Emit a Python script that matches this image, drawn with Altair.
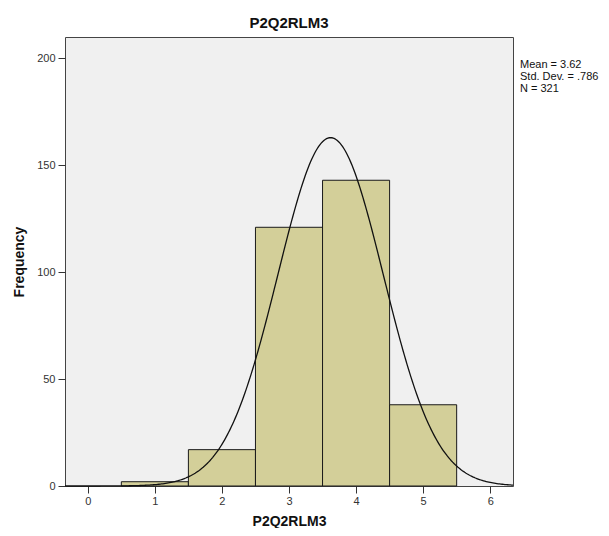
import altair as alt
import pandas as pd

# Histogram bins (value centres) and frequencies
bin_centers = [1, 2, 3, 4, 5]
frequencies = [2, 17, 121, 143, 38]
bin_width = 1.0

# Summary statistics shown in the chart
stat_mean = 3.62
stat_sd = 0.786
stat_n = 321
stat_lines = ["Mean = 3.62", "Std. Dev. = .786", "N = 321"]

x_ticks = [0, 1, 2, 3, 4, 5, 6]
y_ticks = [0, 50, 100, 150, 200]
x_domain = [-0.34, 6.34]
y_domain = [0, 210]

bars_df = pd.DataFrame({
    "start": [c - bin_width / 2 for c in bin_centers],
    "end": [c + bin_width / 2 for c in bin_centers],
    "count": frequencies,
})

FONT = "Liberation Sans"

x_scale = alt.Scale(domain=x_domain, nice=False, zero=False)
y_scale = alt.Scale(domain=y_domain, nice=False)

bars = alt.Chart(bars_df).mark_rect(
    fill="#d3cf99", stroke="#1a1a1a", strokeWidth=1
).encode(
    x=alt.X("start:Q", scale=x_scale,
            axis=alt.Axis(values=x_ticks, title="P2Q2RLM3", format="d",
                          tickSize=7, labelPadding=2, titlePadding=8,
                          grid=False, domain=False, tickColor="#333")),
    x2="end:Q",
    y=alt.Y("count:Q", scale=y_scale,
            axis=alt.Axis(values=y_ticks, title="Frequency",
                          tickSize=7, labelPadding=3, titlePadding=10,
                          grid=False, domain=False, tickColor="#333")),
    y2=alt.Y2(datum=0),
)

# Normal curve defined by the stated mean, SD and N (computed by Vega)
curve = alt.Chart(
    alt.sequence(start=x_domain[0], stop=x_domain[1] + 0.001, step=0.02, as_="xv")
).transform_calculate(
    yv=f"{stat_n} * {bin_width} * densityNormal(datum.xv, {stat_mean}, {stat_sd})"
).mark_line(color="#111111", strokeWidth=1.3).encode(
    x=alt.X("xv:Q", scale=x_scale),
    y=alt.Y("yv:Q", scale=y_scale),
)

stats_text = alt.Chart(pd.DataFrame({"a": [0]})).mark_text(
    text=stat_lines, align="left", baseline="top", lineHeight=12,
    fontSize=11, font=FONT, color="#111"
).encode(x=alt.value(455), y=alt.value(22))

chart = alt.layer(bars, curve, stats_text).properties(
    width=448, height=449,
    title=alt.TitleParams("P2Q2RLM3", fontSize=15, font=FONT, fontWeight="bold",
                          color="#111", anchor="middle", offset=6),
    autosize=alt.AutoSizeParams(type="none"),
    padding={"left": 57, "top": 29, "right": 88, "bottom": 42},
    background="white",
).configure_view(
    fill="#f0f0f0", stroke="#444444", strokeWidth=1
).configure_axis(
    labelFont=FONT, labelFontSize=11, labelColor="#333",
    titleFont=FONT, titleFontSize=14, titleFontWeight="bold", titleColor="#111",
)

chart.save("out.html", embed_options={"renderer": "svg", "actions": False})
